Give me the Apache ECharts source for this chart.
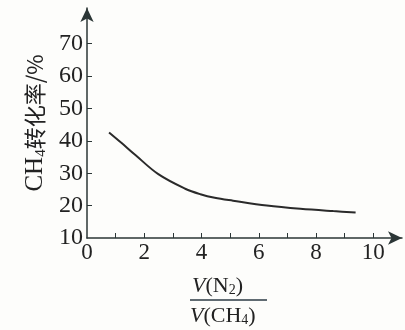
<!DOCTYPE html>
<html>
<head>
<meta charset="utf-8">
<script src="https://cdn.jsdelivr.net/npm/echarts@6/dist/echarts.min.js"></script>
<style>
  html, body { margin: 0; padding: 0; background: #fdfdfb; }
  #main { width: 405px; height: 330px; }
</style>
</head>
<body>
<div id="main"></div>
<script>
// 读图得到的数据点
var ratioN2CH4 = [0.77, 1.2, 1.68, 2.49, 3.43, 3.96, 4.46, 5.1, 6.28, 7.45, 8.6, 9.38];
var ch4Conversion = [42.6, 39.4, 35.7, 29.7, 25.2, 23.5, 22.4, 21.5, 20.0, 19.0, 18.3, 17.9];
var xTickValues = [1, 2, 3, 4, 5, 6, 7, 8, 9, 10];
var xLabelValues = [0, 2, 4, 6, 8, 10];
var yTickValues = [20, 30, 40, 50, 60, 70];
var yLabelValues = [10, 20, 30, 40, 50, 60, 70];

var serif = '"Liberation Serif", "DejaVu Serif", serif';
var axisColor = '#2b3636';

var myChart = echarts.init(document.getElementById('main'));

var seriesData = ratioN2CH4.map(function (x, i) {
    return [x, ch4Conversion[i]];
});

var fracRich = {
    v: { fontFamily: serif, fontStyle: 'italic', fontSize: 22, fill: '#222' },
    t: { fontFamily: serif, fontSize: 22, fill: '#222' },
    s: { fontFamily: serif, fontSize: 14, fill: '#222', verticalAlign: 'bottom' }
};

var option = {
    backgroundColor: '#fdfdfb',
    animation: false,
    grid: {
        left: 87,
        right: 3,
        top: 8,
        bottom: 92
    },
    xAxis: {
        type: 'value',
        min: 0,
        max: 11,
        splitLine: { show: false },
        axisLine: {
            lineStyle: { color: axisColor, width: 1.5 },
            symbol: ['none', 'arrow'],
            symbolSize: [10, 14]
        },
        axisTick: {
            inside: true,
            length: 5,
            customValues: xTickValues,
            lineStyle: { color: axisColor }
        },
        axisLabel: {
            customValues: xLabelValues,
            margin: 3,
            color: '#222',
            fontFamily: serif,
            fontSize: 23
        }
    },
    yAxis: {
        type: 'value',
        min: 10,
        max: 81,
        splitLine: { show: false },
        axisLine: {
            lineStyle: { color: axisColor, width: 1.5 },
            symbol: ['none', 'arrow'],
            symbolSize: [10, 14]
        },
        axisTick: {
            inside: true,
            length: 5,
            customValues: yTickValues,
            lineStyle: { color: axisColor }
        },
        axisLabel: {
            customValues: yLabelValues,
            margin: 4,
            color: '#222',
            fontFamily: serif,
            fontSize: 24
        },
        name: '{a|CH}{s|4}{b|转化率/%}',
        nameLocation: 'middle',
        nameRotate: 90,
        nameGap: 35,
        nameTextStyle: {
            rich: {
                a: { fontFamily: serif, fontSize: 25, color: '#222', lineHeight: 26 },
                s: { fontFamily: serif, fontSize: 15, color: '#222', verticalAlign: 'bottom', lineHeight: 26 },
                b: { fontFamily: '"Noto Sans CJK SC", sans-serif', fontSize: 22, color: '#222', lineHeight: 26 }
            }
        }
    },
    graphic: [
        {
            type: 'text',
            left: 192,
            top: 275,
            style: { text: '{v|V}{t|(N}{s|2}{t|)}', rich: fracRich }
        },
        {
            type: 'line',
            shape: { x1: 190, y1: 300, x2: 267, y2: 300 },
            style: { stroke: '#2b3a44', lineWidth: 1.5 }
        },
        {
            type: 'text',
            left: 190,
            top: 305,
            style: { text: '{v|V}{t|(CH}{s|4}{t|)}', rich: fracRich }
        }
    ],
    series: [
        {
            type: 'line',
            data: seriesData,
            smooth: 0.35,
            showSymbol: false,
            lineStyle: { color: '#2a2a2a', width: 2 }
        }
    ]
};

myChart.setOption(option);
</script>
</body>
</html>
